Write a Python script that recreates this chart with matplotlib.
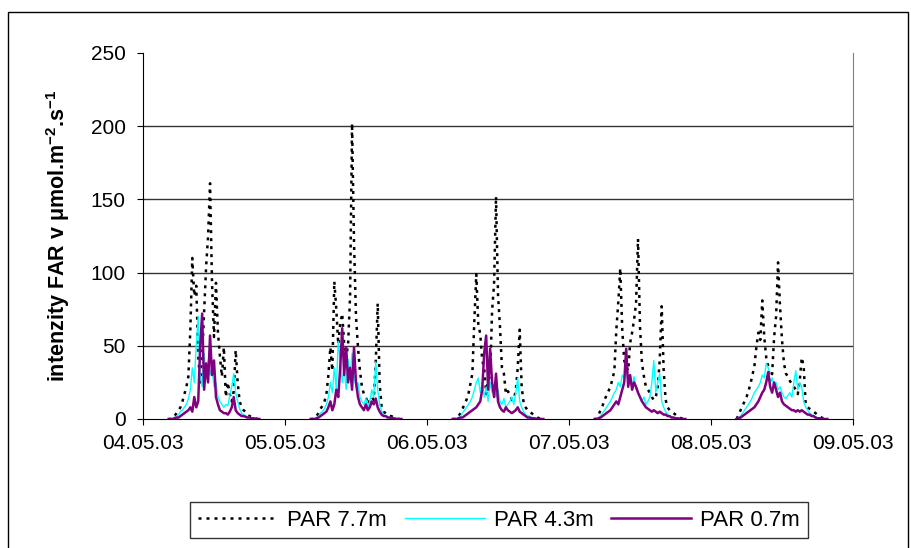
import numpy as np
import matplotlib
matplotlib.use('Agg')
import matplotlib.pyplot as plt
from matplotlib.patches import Rectangle

plt.rcParams['font.family'] = ['Liberation Sans', 'DejaVu Sans']
plt.rcParams['mathtext.fontset'] = 'custom'
plt.rcParams['mathtext.rm'] = 'Liberation Sans'
plt.rcParams['mathtext.bf'] = 'Liberation Sans:bold'

# x tick labels (one per day, midnight)
day_labels = ['04.05.03', '05.05.03', '06.05.03', '07.05.03', '08.05.03', '09.05.03']

# readings every 20 min from 04:20 to 19:40, one list per day
par77 = [
    [0, 0, 0, 2, 4, 6, 8, 12, 17, 22, 29, 61, 110, 84, 91, 43, 25, 43, 74, 104, 125, 161, 93, 56,
     93, 59, 43, 29, 49, 15, 25, 17, 12, 19, 47, 25, 12, 8, 6, 5, 3, 2, 1.5, 1, 0.5, 0, 0],
    [0, 0, 0, 2, 4, 7, 9, 12, 17, 30, 49, 33, 94, 75, 51, 65, 72, 51, 42, 51, 84, 202, 120, 70,
     49, 33, 22, 17, 15, 10, 13, 15, 13, 38, 79, 24, 8, 5, 4, 3, 2, 2, 1, 0.5, 0, 0, 0],
    [0, 0, 0, 2, 4, 7, 10, 13, 17, 24, 31, 67, 99, 65, 58, 40, 35, 17, 27, 29, 74, 92, 152, 85,
     63, 35, 31, 17, 19, 17, 13, 14, 19, 35, 61, 22, 11, 8, 6, 5, 4, 3, 2, 1, 0.5, 0, 0],
    [0, 0, 3, 6, 9, 13, 16, 19, 22, 27, 33, 61, 80, 103, 61, 40, 36, 33, 52, 59, 68, 79, 123, 63,
     38, 29, 22, 20, 18, 15, 13, 15, 22, 40, 77, 33, 13, 8, 6, 5, 4, 3, 2, 1, 0.5, 0, 0],
    [0, 3, 6, 9, 12, 15, 19, 24, 30, 36, 49, 59, 54, 81, 56, 42, 36, 26, 31, 56, 70, 107, 77, 54,
     38, 31, 29, 26, 24, 22, 20, 17, 26, 42, 36, 10, 8, 7, 6, 5, 4, 3, 2, 1, 0.5, 0, 0],
]
par43 = [
    [0, 0, 0, 1, 2, 3, 5, 6, 8, 10, 14, 20, 35, 25, 50, 70, 30, 22, 45, 28, 40, 30, 35, 22,
     25, 15, 12, 10, 8, 10, 9, 16, 22, 31, 18, 12, 7, 4, 3, 2, 1.5, 1, 0.5, 0.5, 0, 0, 0],
    [0, 0, 0, 1, 2, 4, 5, 7, 10, 15, 25, 18, 35, 20, 53, 40, 25, 35, 20, 41, 28, 45, 30, 22,
     25, 15, 12, 10, 14, 8, 12, 20, 15, 39, 20, 10, 5, 3, 2, 2, 1, 1, 0.5, 0, 0, 0, 0],
    [0, 0, 0, 1, 2, 4, 6, 8, 10, 12, 15, 20, 25, 28, 18, 25, 15, 22, 12, 25, 18, 20, 15, 20,
     12, 10, 14, 8, 10, 12, 15, 10, 18, 28, 12, 8, 5, 3, 2, 2, 1, 1, 0.5, 0, 0, 0, 0],
    [0, 0, 1, 2, 4, 6, 8, 10, 12, 15, 18, 20, 25, 22, 30, 28, 35, 25, 30, 22, 29, 20, 18, 15,
     12, 15, 10, 12, 15, 25, 40, 18, 25, 31, 12, 8, 5, 3, 2, 1.5, 1, 0.5, 0.5, 0, 0, 0, 0],
    [0, 1, 2, 4, 6, 8, 10, 12, 15, 18, 20, 22, 25, 30, 28, 38, 35, 25, 28, 22, 25, 20, 22, 18,
     15, 14, 16, 18, 15, 25, 33, 20, 25, 22, 12, 8, 6, 4, 3, 2, 1.5, 1, 0.5, 0, 0, 0, 0],
]
par07 = [
    [0, 0, 0, 0.5, 1, 1, 2, 3, 4, 5, 6, 8, 5, 15, 8, 12, 50, 72, 20, 38, 25, 57, 30, 40,
     15, 10, 6, 5, 4, 4, 3, 5, 8, 15, 6, 4, 3, 2, 2, 1.5, 1, 1, 0.5, 0.5, 0.3, 0, 0],
    [0, 0, 0, 0.5, 1, 2, 3, 4, 5, 8, 12, 6, 10, 20, 15, 35, 62, 30, 49, 25, 35, 20, 49, 25,
     15, 10, 8, 6, 10, 6, 8, 12, 10, 14, 8, 5, 3, 2, 2, 1, 1, 0.5, 0.5, 0.3, 0, 0, 0],
    [0, 0, 0, 0.5, 1, 1, 2, 3, 4, 5, 6, 7, 8, 10, 12, 20, 45, 57, 20, 48, 25, 15, 31, 12,
     8, 6, 5, 8, 6, 5, 4, 5, 6, 8, 5, 4, 3, 2, 1, 1, 0.5, 0.5, 0.3, 0, 0, 0, 0],
    [0, 0, 0.5, 1, 2, 3, 4, 5, 6, 8, 10, 12, 10, 15, 20, 25, 48, 22, 30, 20, 25, 22, 18, 15,
     12, 10, 8, 7, 6, 5, 6, 5, 4, 5, 4, 3, 3, 2, 2, 1, 1, 0.5, 0.5, 0.3, 0, 0, 0],
    [0, 0.5, 1, 2, 3, 4, 5, 6, 7, 8, 10, 12, 15, 18, 20, 25, 32, 22, 18, 25, 20, 15, 18, 12,
     10, 9, 8, 7, 6, 6, 5, 6, 5, 6, 5, 4, 3, 3, 2, 2, 1, 0.5, 0.5, 0.3, 0, 0, 0],
]


def day_series(days):
    """Join the daily lists into one x/y pair, with gaps overnight."""
    xs, ys = [], []
    for d, vals in enumerate(days):
        hours = 4 + 1 / 3 + np.arange(len(vals)) / 3
        xs.extend(d + hours / 24)
        ys.extend(vals)
        xs.append(np.nan)
        ys.append(np.nan)
    return np.array(xs), np.array(ys)


fig = plt.figure(figsize=(9.12, 5.48), dpi=100)
ax = fig.add_axes([143 / 912, 1 - 419 / 548, 710 / 912, 366 / 548])

# outer chart frame
fig.patches.append(Rectangle((8 / 912, -0.05), 900 / 912, 1.05 - 12 / 548,
                             transform=fig.transFigure, fill=False,
                             edgecolor='black', linewidth=1))

x, y = day_series(par77)
ax.plot(x, y, color='black', linewidth=1.8, linestyle=(0, (1.2, 2)), label='PAR 7.7m')
x, y = day_series(par43)
ax.plot(x, y, color='#00FFFF', linewidth=1.0, label='PAR 4.3m')
x, y = day_series(par07)
ax.plot(x, y, color='#800080', linewidth=1.8, label='PAR 0.7m')

ax.set_xlim(0, 5)
ax.set_ylim(0, 250)
ax.set_xticks(range(len(day_labels)))
ax.set_xticklabels(day_labels)
ax.set_yticks([0, 50, 100, 150, 200, 250])
for v in [50, 100, 150, 200]:
    ax.axhline(v, color='#333333', linewidth=1, zorder=0)

ax.tick_params(axis='both', labelsize=15, direction='out', length=4.5, color='black')
ax.tick_params(axis='y', pad=8)
ax.tick_params(axis='x', pad=6)
ax.spines['top'].set_visible(False)
ax.spines['right'].set_color('#808080')
ax.spines['left'].set_color('black')
ax.spines['bottom'].set_color('black')

ax.set_ylabel(r'intenzity FAR v μmol.m$^{\mathbf{-2}}$.s$^{\mathbf{-1}}$',
              fontsize=15.5, fontweight='bold', labelpad=13)

leg = fig.legend(loc='center', bbox_to_anchor=(499 / 912, 1 - 520 / 548), ncol=3,
                 fontsize=16, frameon=True, fancybox=False, handlelength=3.6,
                 columnspacing=0.8, handletextpad=0.4, borderpad=0.35)
leg.get_frame().set_edgecolor('black')
leg.get_frame().set_linewidth(1)

fig.savefig('out.png', dpi=100)
